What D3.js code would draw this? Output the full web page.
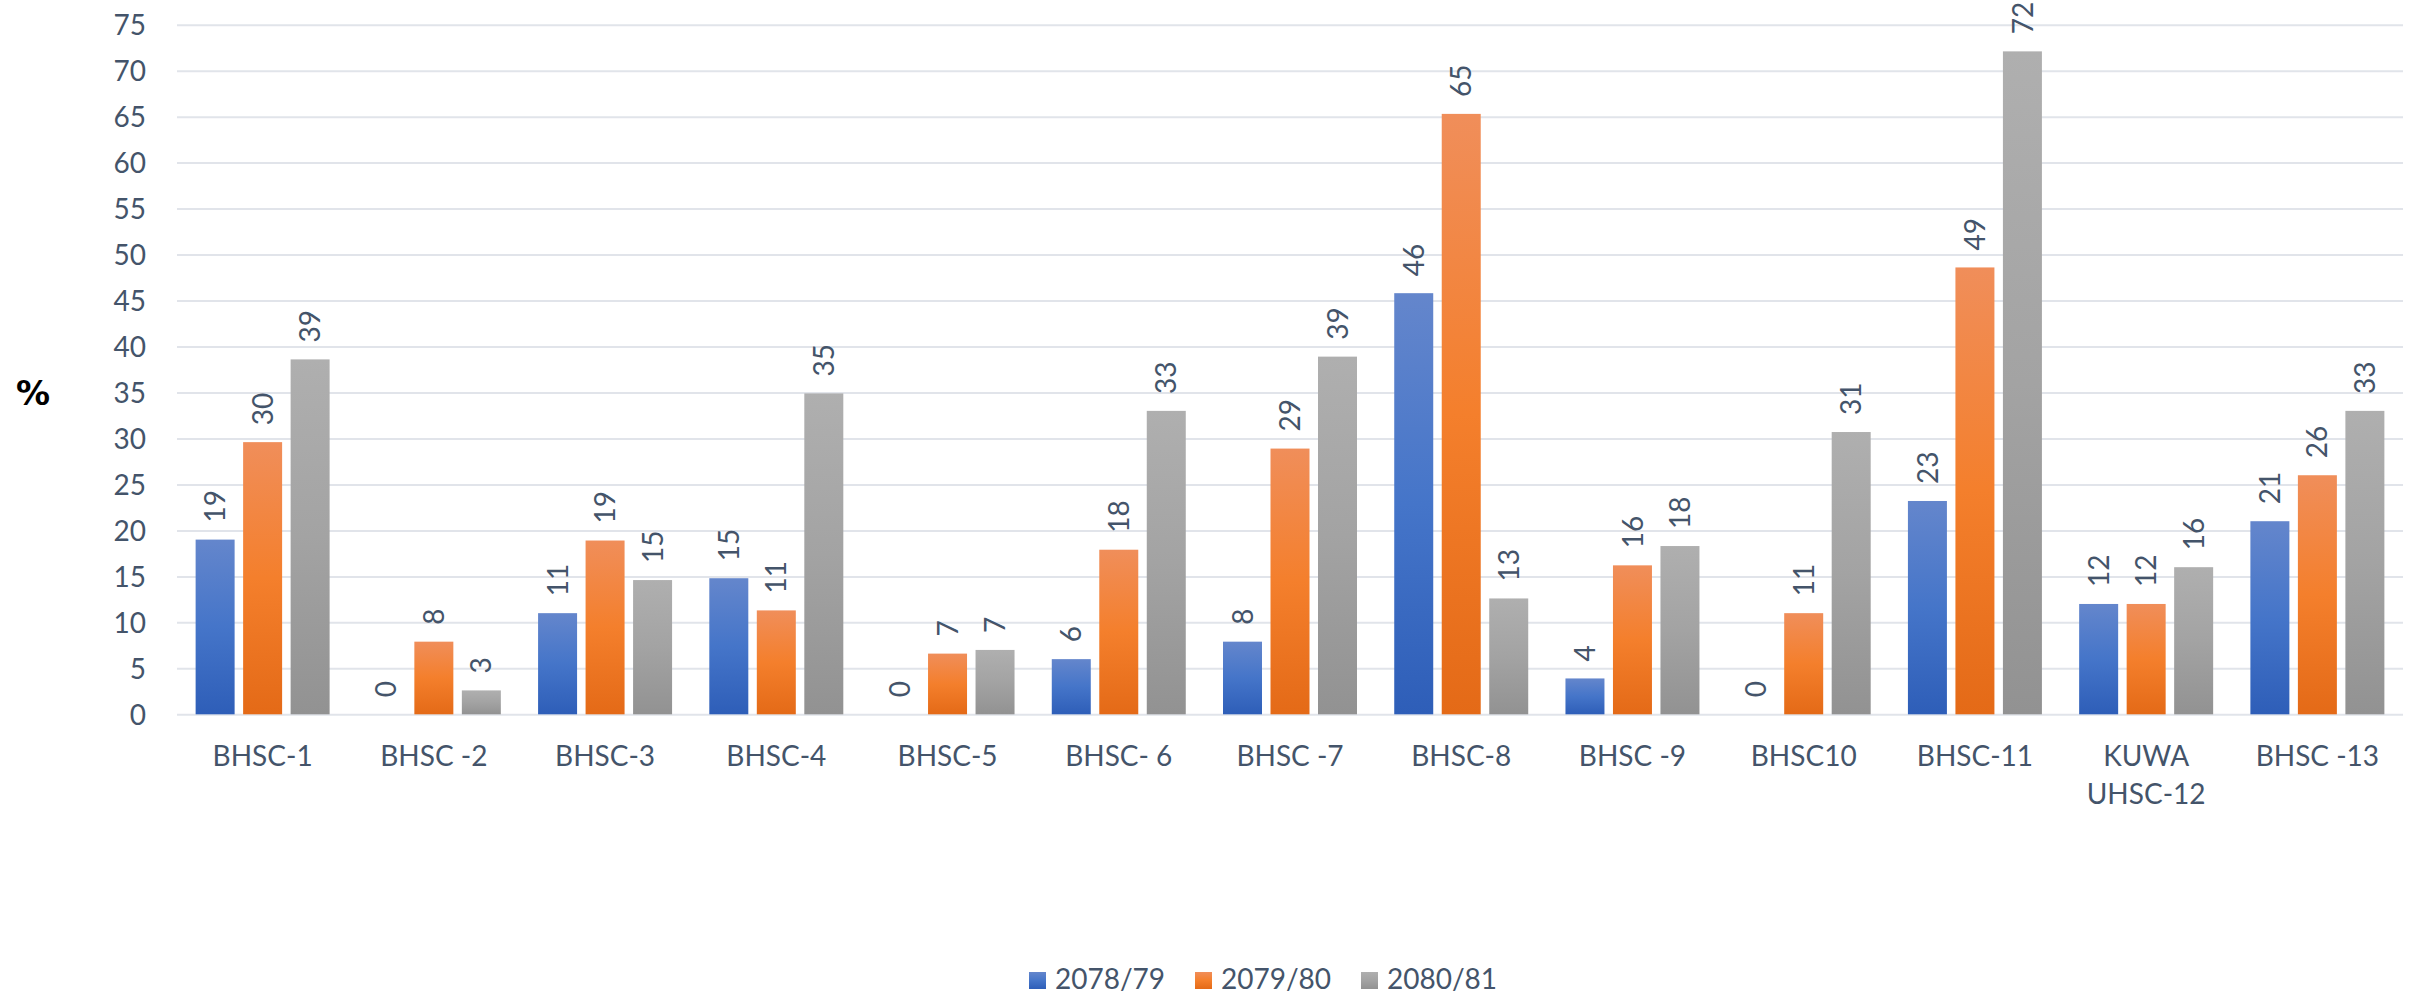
<!DOCTYPE html>
<html>
<head>
<meta charset="utf-8">
<script src="https://cdn.jsdelivr.net/npm/d3@7"></script>
<style>
  html, body { margin: 0; padding: 0; background: #ffffff; }
  svg { display: block; }
  text { font-family: Lato, "Open Sans", sans-serif; }
</style>
</head>
<body>
<svg id="chart" width="2420" height="997"></svg>
<script>
// ---- data ----
const categories = ["BHSC-1", "BHSC -2", "BHSC-3", "BHSC-4", "BHSC-5", "BHSC- 6", "BHSC -7",
                    "BHSC-8", "BHSC -9", "BHSC10", "BHSC-11", "KUWA\nUHSC-12", "BHSC -13"];
const seriesNames = ["2078/79", "2079/80", "2080/81"];
const values2078 = [19, 0, 11, 14.8, 0, 6, 7.9, 45.8, 3.9, 0, 23.2, 12, 21];
const values2079 = [29.6, 7.9, 18.9, 11.3, 6.6, 17.9, 28.9, 65.3, 16.2, 11, 48.6, 12, 26];
const values2080 = [38.6, 2.6, 14.6, 34.9, 7, 33, 38.9, 12.6, 18.3, 30.7, 72.1, 16, 33];
const yTicks = [0, 5, 10, 15, 20, 25, 30, 35, 40, 45, 50, 55, 60, 65, 70, 75];
const yLabel = "%";

const seriesValues = [values2078, values2079, values2080];
const gradStops = [
  ["#6486cc", "#4575c9", "#2e5eb8"],
  ["#f08e5a", "#f47f2c", "#e46a17"],
  ["#afafaf", "#a3a3a3", "#929292"]
];
const textColor = "#44546a";

const svg = d3.select("#chart");
const plotLeft = 177, plotRight = 2403, plotTop = 24.7, plotBottom = 714.3;

// gradients
const defs = svg.append("defs");
seriesNames.forEach((s, i) => {
  const g = defs.append("linearGradient").attr("id", "grad" + i)
    .attr("x1", 0).attr("y1", 0).attr("x2", 0).attr("y2", 1);
  g.append("stop").attr("offset", "0%").attr("stop-color", gradStops[i][0]);
  g.append("stop").attr("offset", "50%").attr("stop-color", gradStops[i][1]);
  g.append("stop").attr("offset", "100%").attr("stop-color", gradStops[i][2]);
});

const y = d3.scaleLinear().domain([0, 75]).range([plotBottom, plotTop]);
const x0 = d3.scaleBand().domain(categories).range([plotLeft, plotRight]).padding(0);
const x1 = d3.scaleBand().domain(seriesNames).range([0, x0.bandwidth()])
  .paddingInner(0.179).paddingOuter(0.392);

// gridlines
const grid = svg.append("g").attr("transform", `translate(${plotLeft},0)`)
  .call(d3.axisLeft(y).tickValues(yTicks).tickSize(-(plotRight - plotLeft)).tickFormat(""));
grid.select(".domain").remove();
grid.selectAll("line").attr("stroke", "#e1e4ea").attr("stroke-width", 2);

// y axis labels
const yAxis = svg.append("g").attr("transform", `translate(${plotLeft},0)`)
  .call(d3.axisLeft(y).tickValues(yTicks).tickSize(0).tickPadding(31));
yAxis.select(".domain").remove();
yAxis.selectAll("text").attr("font-size", 28).attr("fill", textColor)
  .style("font-family", "Lato").attr("dy", "0.36em");

// bars
const data = [];
categories.forEach((c, ci) => {
  seriesNames.forEach((s, si) => {
    data.push({ c, s, si, v: seriesValues[si][ci] });
  });
});

svg.append("g").selectAll("rect").data(data).join("rect")
  .attr("x", d => x0(d.c) + x1(d.s))
  .attr("y", d => y(d.v))
  .attr("width", x1.bandwidth())
  .attr("height", d => y(0) - y(d.v))
  .attr("fill", d => `url(#grad${d.si})`);

// data labels (rotated)
svg.append("g").selectAll("text").data(data).join("text")
  .attr("transform", d => `translate(${x0(d.c) + x1(d.s) + x1.bandwidth() / 2},${y(d.v) - 17}) rotate(-90)`)
  .attr("dy", "0.36em")
  .attr("text-anchor", "start")
  .attr("font-size", 28)
  .attr("fill", textColor)
  .text(d => Math.round(d.v));

// x axis labels
const xAxis = svg.append("g").attr("transform", `translate(0,${plotBottom})`)
  .call(d3.axisBottom(x0).tickSize(0).tickPadding(0));
xAxis.select(".domain").remove();
xAxis.selectAll("text").each(function (d) {
  const t = d3.select(this);
  t.text(null).attr("font-size", 28).attr("fill", textColor).attr("dy", null).attr("y", 0);
  d.split("\n").forEach((line, i) => {
    t.append("tspan").attr("x", 0).attr("y", 52 + i * 37.5).text(line);
  });
});

// y label
svg.append("text").attr("x", 33).attr("y", 405)
  .attr("text-anchor", "middle")
  .style("font-family", "'DejaVu Sans', sans-serif").style("font-weight", "bold")
  .style("font-size", "34px").attr("fill", "#000")
  .text(yLabel);

// legend
const legend = svg.append("g");
seriesNames.forEach((s, i) => {
  const gx = 1029 + i * 166;
  legend.append("rect").attr("x", gx).attr("y", 972).attr("width", 17).attr("height", 17)
    .attr("fill", `url(#grad${i})`);
  legend.append("text").attr("x", gx + 26).attr("y", 989)
    .attr("font-size", 28).attr("fill", textColor).text(s);
});
</script>
</body>
</html>
